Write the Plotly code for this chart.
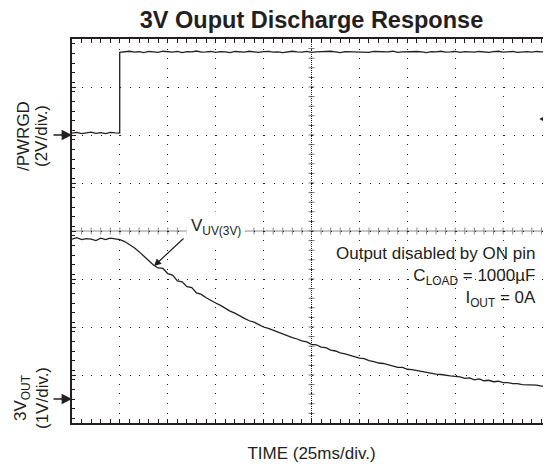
import plotly.graph_objects as go

# ---------------- data ----------------
TIME_MS = [0, 2.5, 5, 7.5, 10, 12.5, 15, 17.5, 20, 22.5,
           25, 27.5, 30, 32.5, 35, 37.5, 40, 42.5, 45, 47.5,
           50, 52.5, 55, 57.5, 60, 62.5, 65, 67.5, 70, 72.5,
           75, 77.5, 80, 82.5, 85, 87.5, 90, 92.5, 95, 97.5,
           100, 102.5, 105, 107.5, 110, 112.5, 115, 117.5, 120, 122.5,
           125, 127.5, 130, 132.5, 135, 137.5, 140, 142.5, 145, 147.5,
           150, 152.5, 155, 157.5, 160, 162.5, 165, 167.5, 170, 172.5,
           175, 177.5, 180, 182.5, 185, 187.5, 190, 192.5, 195, 197.5,
           200, 202.5, 205, 207.5, 210, 212.5, 215, 217.5, 220, 222.5,
           225, 227.5, 230, 232.5, 235, 237.5, 240, 242.5, 245, 247.5,
           250]

VOUT_3V = [3.33, 3.36, 3.32, 3.34, 3.33, 3.30, 3.35, 3.32, 3.35, 3.33,
           3.32, 3.28, 3.22, 3.15, 3.07, 2.98, 2.89, 2.79, 2.73, 2.72,
           2.61, 2.58, 2.46, 2.44, 2.34, 2.32, 2.21, 2.18, 2.11, 2.05,
           2.00, 1.95, 1.89, 1.83, 1.79, 1.73, 1.68, 1.63, 1.60, 1.55,
           1.50, 1.47, 1.43, 1.39, 1.35, 1.32, 1.28, 1.25, 1.21, 1.19,
           1.14, 1.13, 1.08, 1.07, 1.02, 1.00, 0.96, 0.94, 0.91, 0.88,
           0.85, 0.84, 0.80, 0.78, 0.75, 0.74, 0.71, 0.69, 0.66, 0.66,
           0.62, 0.61, 0.59, 0.58, 0.55, 0.54, 0.52, 0.51, 0.49, 0.48,
           0.47, 0.46, 0.43, 0.44, 0.40, 0.42, 0.38, 0.39, 0.36, 0.37,
           0.34, 0.34, 0.32, 0.32, 0.30, 0.30, 0.29, 0.29, 0.27, 0.27,
           0.26]

PWRGD_LOW = [0.08, 0.11, 0.06, 0.10, 0.12, 0.07, 0.10, 0.06, 0.11, 0.09, 0.08]
PWRGD_HIGH = [3.44, 3.46, 3.49, 3.45, 3.47, 3.43, 3.48, 3.46, 3.44, 3.49,
              3.46, 3.45, 3.48, 3.43, 3.47, 3.46, 3.50, 3.45, 3.46, 3.48,
              3.44, 3.47, 3.46, 3.43, 3.48, 3.46, 3.45, 3.49, 3.46, 3.44,
              3.47, 3.48, 3.45, 3.46, 3.43, 3.47, 3.49, 3.46, 3.45, 3.48,
              3.44, 3.46, 3.47, 3.45, 3.49, 3.46, 3.43, 3.47, 3.46, 3.48,
              3.45, 3.46, 3.44, 3.48, 3.47, 3.45, 3.46, 3.49, 3.44, 3.46,
              3.47, 3.45, 3.48, 3.46, 3.43, 3.47, 3.46, 3.49, 3.45, 3.46,
              3.48, 3.44, 3.47, 3.46, 3.45, 3.48, 3.46, 3.44, 3.47, 3.49,
              3.45, 3.46, 3.48, 3.44, 3.46, 3.47, 3.45, 3.48, 3.46, 3.46,
              3.47]
PWRGD_STEP_MS = 24.9
PWRGD_TIME = TIME_MS[:10] + [PWRGD_STEP_MS, PWRGD_STEP_MS] + TIME_MS[11:]
PWRGD_V = PWRGD_LOW + PWRGD_HIGH

TITLE = "3V Ouput Discharge Response"
X_TITLE = "TIME (25ms/div.)"
UV_LABEL = "V<sub>UV(3V)</sub>"
UV_POINT = (42.8, 2.77)
CONDITIONS = "Output disabled by ON pin<br>C<sub>LOAD</sub> = 1000µF<br>I<sub>OUT</sub> = 0A"

INK = "#231f20"
FONT = "Liberation Sans, Arial, sans-serif"

# the page body has an 8px margin, so the figure is sized to end at the window edge
W, H = 543, 460
ML, MT, MB = 64, 31, 45
PW, PH = W - ML, H - MT - MB  # 479 x 384

# ---------------- figure ----------------
fig = go.Figure()
fig.add_trace(go.Scatter(x=PWRGD_TIME, y=PWRGD_V, yaxis="y2", mode="lines",
                         line=dict(color=INK, width=1.3), showlegend=False,
                         hoverinfo="skip"))
fig.add_trace(go.Scatter(x=TIME_MS, y=VOUT_3V, yaxis="y", mode="lines",
                         line=dict(color=INK, width=1.3), showlegend=False,
                         hoverinfo="skip"))

fig.update_layout(
    width=W, height=H,
    margin=dict(l=ML, r=0, t=MT, b=MB, pad=0),
    paper_bgcolor="white", plot_bgcolor="white",
    font=dict(family=FONT, color=INK, size=17),
    title=dict(text="<b>" + TITLE + "</b>", x=0.5, xref="paper", xanchor="center",
               y=1 - 12 / H, yanchor="middle", font=dict(size=23.5, color=INK)),
    xaxis=dict(range=[0, 250], dtick=25, tick0=0, showgrid=True, gridcolor=INK,
               gridwidth=1, griddash="1px,8.58px", zeroline=False, showline=True,
               linecolor=INK, linewidth=2, mirror="allticks", ticks="inside",
               ticklen=4, tickcolor=INK, showticklabels=False,
               minor=dict(dtick=5, ticks="inside", ticklen=3, tickcolor=INK,
                          showgrid=False),
               title=dict(text=X_TITLE, font=dict(size=17), standoff=23)),
    yaxis=dict(range=[-0.5, 7.5], dtick=1, tick0=-0.5, showgrid=True,
               gridcolor=INK, gridwidth=1, griddash="1px,8.6px", zeroline=False,
               showline=True, linecolor=INK, linewidth=2, ticks="inside",
               ticklen=4, tickcolor=INK, showticklabels=False,
               minor=dict(dtick=0.2, ticks="inside", ticklen=3, tickcolor=INK,
                          showgrid=False)),
    yaxis2=dict(range=[-12, 4], overlaying="y", visible=False, showgrid=False,
                zeroline=False),
)


def px_x(page_x):
    return (page_x - 8 - ML) / PW


def px_y(page_y):
    return (MT + PH - (page_y - 8)) / PH


# centre cross with fine ticks
shapes = []
shapes.append(dict(type="line", xref="x", yref="paper", x0=125, x1=125, y0=0, y1=1,
                   line=dict(color=INK, width=1, dash="1px,1px"), layer="below"))
shapes.append(dict(type="line", xref="paper", yref="y", x0=0, x1=1, y0=3.5, y1=3.5,
                   line=dict(color="#8c8c8c", width=1), layer="below"))
for i in range(1, 40):
    shapes.append(dict(type="line", xref="x", yref="paper", xsizemode="pixel",
                       xanchor=125, x0=-3, x1=3, y0=i / 40, y1=i / 40,
                       line=dict(color="#777777", width=1), layer="below"))
for i in range(1, 50):
    shapes.append(dict(type="line", xref="x", yref="y", ysizemode="pixel",
                       yanchor=3.5, y0=-3.5, y1=3.5, x0=i * 5, x1=i * 5,
                       line=dict(color="#8c8c8c", width=1), layer="below"))
# trigger-level marker at the right edge (arrow pointing left)
shapes.append(dict(type="path", xref="paper", yref="paper",
                   xsizemode="pixel", ysizemode="pixel",
                   xanchor=px_x(541), yanchor=px_y(119),
                   path="M0,0 L8,4.5 L6,0 L8,-4.5 Z M6,0 L14,0",
                   fillcolor=INK, line=dict(color=INK, width=1.6), layer="above"))
fig.update_layout(shapes=shapes)

ann = []
# channel ground markers
ann.append(dict(x=0, xref="paper", y=0, yref="y2", ax=-20, ay=0, text="",
                showarrow=True, arrowhead=2, arrowsize=1.3, arrowwidth=1.6,
                arrowcolor=INK, standoff=0))
ann.append(dict(x=0, xref="paper", y=0, yref="y", ax=-20, ay=0, text="",
                showarrow=True, arrowhead=2, arrowsize=1.3, arrowwidth=1.6,
                arrowcolor=INK, standoff=0))
# channel labels
ann.append(dict(x=px_x(24), xref="paper", y=px_y(136), yref="paper", text="/PWRGD",
                textangle=-90, showarrow=False, xanchor="center", yanchor="middle"))
ann.append(dict(x=px_x(42), xref="paper", y=px_y(136), yref="paper", text="(2V/div.)",
                textangle=-90, showarrow=False, xanchor="center", yanchor="middle"))
ann.append(dict(x=px_x(22), xref="paper", y=px_y(398), yref="paper",
                text="3V<sub>OUT</sub>", textangle=-90, showarrow=False,
                xanchor="center", yanchor="middle"))
ann.append(dict(x=px_x(42), xref="paper", y=px_y(398), yref="paper", text="(1V/div.)",
                textangle=-90, showarrow=False, xanchor="center", yanchor="middle"))
# V_UV label and pointer
ann.append(dict(x=UV_POINT[0], xref="x", y=UV_POINT[1], yref="y", ax=31, ay=-29,
                text="", showarrow=True, arrowhead=2, arrowsize=1.2, arrowwidth=1.2,
                arrowcolor=INK, standoff=0))
ann.append(dict(x=px_x(186), xref="paper", y=px_y(227), yref="paper",
                text=UV_LABEL, showarrow=False, xanchor="left", yanchor="middle",
                bgcolor="white", borderpad=4))
# conditions
ann.append(dict(x=px_x(538), xref="paper", y=px_y(277), yref="paper",
                text=CONDITIONS, showarrow=False, xanchor="right", yanchor="middle",
                align="right"))
fig.update_layout(annotations=ann)

fig.write_html("out.html")
